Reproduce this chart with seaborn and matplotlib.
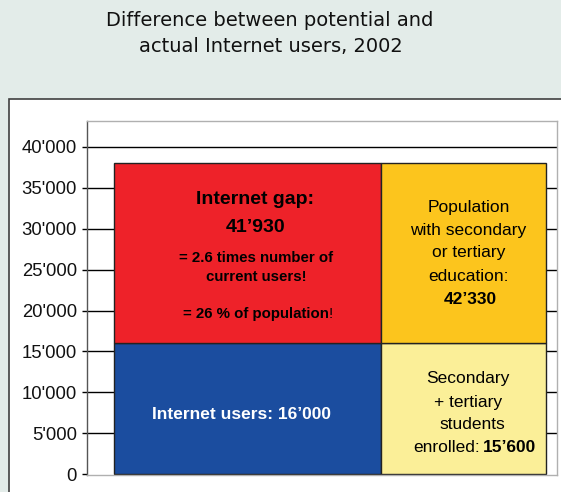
import matplotlib
matplotlib.use("Agg")
import matplotlib.pyplot as plt
from matplotlib.patches import Rectangle
import seaborn as sns

# 数据: 两列堆叠（左：互联网用户 + 缺口；右：在校学生 + 受教育人口）
columns = ["Internet", "Education"]
bottom_values = [16000, 16000]
top_values = [22100, 22100]
bottom_colors = ["#1b4d9f", "#fbef98"]
top_colors = ["#ee2229", "#fcc51d"]

y_ticks = [0, 5000, 10000, 15000, 20000, 25000, 30000, 35000, 40000]
y_tick_labels = ["0", "5'000", "10'000", "15'000", "20'000",
                 "25'000", "30'000", "35'000", "40'000"]

title_lines = ["Difference between potential and", "actual Internet users, 2002"]

sns.set_theme(style="white")
plt.rcParams['font.family'] = ['Liberation Sans', 'DejaVu Sans']

W, H = 561, 492
fig = plt.figure(figsize=(W / 100, H / 100), dpi=100)
fig.patch.set_facecolor("#e3ece9")

# 白色外框
fig.patches.append(Rectangle((9 / W, -0.1), 1.2, (H - 99) / H + 0.1,
                             transform=fig.transFigure, facecolor="white",
                             edgecolor="#404040", linewidth=1.2, zorder=-10))

fig.text(270 / W, 1 - 20 / H, title_lines[0], ha="center", va="center",
         fontsize=14, family="DejaVu Sans", color="#111111")
fig.text(271 / W, 1 - 46 / H, title_lines[1], ha="center", va="center",
         fontsize=14, family="DejaVu Sans", color="#111111")

ax = fig.add_axes([87 / W, (H - 475) / H, 470 / W, 354 / H])
ax.set_zorder(5)
ax.set_facecolor("white")
ax.set_xlim(0, 100)
ax.set_ylim(-120, 43180)

# 列的位置与宽度（布局）
lefts = [5.74, 62.55]
widths = [56.81, 35.11]

for yv in y_ticks[1:]:
    ax.axhline(yv, color="black", linewidth=1.0, zorder=1)

for i in range(len(columns)):
    ax.bar(lefts[i], bottom_values[i], width=widths[i], align="edge",
           color=bottom_colors[i], edgecolor="#222222", linewidth=1.0, zorder=2)
    ax.bar(lefts[i], top_values[i], width=widths[i], bottom=bottom_values[i],
           align="edge", color=top_colors[i], edgecolor="#222222",
           linewidth=1.0, zorder=2)

ax.set_yticks(y_ticks)
ax.set_yticklabels(y_tick_labels, fontsize=13.3, color="#111111")
ax.set_xticks([])
ax.tick_params(axis="y", left=True, length=3.8, width=1.0, color="black", pad=3.5)

for s in ["top", "right", "bottom"]:
    ax.spines[s].set_color("#b0b0b0")
    ax.spines[s].set_linewidth(1.0)
ax.spines["left"].set_color("#555555")
ax.spines["left"].set_linewidth(1.0)


def px_x(x):
    return (x - 87) / 4.70


def px_y(y):
    return (474 - y) / 8.175 * 1000


def label(x, y, s, size=12.5, bold=False, color="black", ha="center"):
    ax.text(px_x(x), px_y(y), s, ha=ha, va="baseline", fontsize=size,
            fontweight="bold" if bold else "normal", color=color, zorder=3)


# 红色：互联网缺口
label(255, 204.3, "Internet gap:", size=14, bold=True)
label(256, 231.7, "41\u2019930", size=14, bold=True)
label(256, 261.7, "= 2.6 times number of", size=10.8, bold=True)
label(256, 280.7, "current users!", size=10.8, bold=True)
label(329, 317.5, "= 26 % of population", size=10.8, bold=True, ha="right")
label(329, 317.5, "!", size=10.8, ha="left")

# 蓝色：互联网用户
label(241, 419, "Internet users: 16\u2019000", size=12.5, bold=True, color="white")

# 黄色：受教育人口
label(468.5, 211.7, "Population", size=12.5)
label(468.5, 235, "with secondary", size=12.5)
label(468.5, 256.7, "or tertiary", size=12.5)
label(468.5, 280.7, "education:", size=12.5)
label(470, 304, "42\u2019330", size=12.5, bold=True)

# 浅黄：在校学生
label(468, 383.3, "Secondary", size=12.5)
label(468, 406.7, "+ tertiary", size=12.5)
label(472, 429.3, "students", size=12.5)
label(480, 452.3, "enrolled:", size=12.5, ha="right")
label(483, 452.3, "15\u2019600", size=12.5, bold=True, ha="left")

fig.savefig("out.png", dpi=100, facecolor=fig.get_facecolor())
